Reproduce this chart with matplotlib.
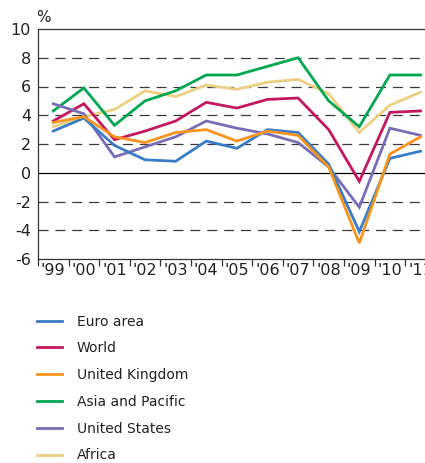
#!/usr/bin/env python3
# coding: utf-8
import matplotlib
matplotlib.use('Agg')
import matplotlib.pyplot as plt
from matplotlib.ticker import FixedLocator

# Year labels along the x axis
years = ["'99", "'00", "'01", "'02", "'03", "'04", "'05", "'06",
         "'07", "'08", "'09", "'10", "'11"]

# Growth in %
euro_area = [2.9, 3.8, 1.9, 0.9, 0.8, 2.2, 1.7, 3.0, 2.8, 0.6, -4.1, 1.0, 1.5]
world = [3.6, 4.8, 2.3, 2.9, 3.6, 4.9, 4.5, 5.1, 5.2, 3.0, -0.6, 4.2, 4.3]
united_kingdom = [3.5, 3.9, 2.5, 2.1, 2.8, 3.0, 2.2, 2.9, 2.6, 0.4, -4.9, 1.3, 2.5]
asia_pacific = [4.3, 5.9, 3.3, 5.0, 5.7, 6.8, 6.8, 7.4, 8.0, 5.0, 3.2, 6.8, 6.8]
united_states = [4.8, 4.1, 1.1, 1.8, 2.5, 3.6, 3.1, 2.7, 2.1, 0.4, -2.4, 3.1, 2.6]
africa = [3.2, 3.9, 4.4, 5.7, 5.3, 6.1, 5.8, 6.3, 6.5, 5.5, 2.8, 4.7, 5.6]

series_names = ["Euro area", "World", "United Kingdom", "Asia and Pacific",
                "United States", "Africa"]
series_values = [euro_area, world, united_kingdom, asia_pacific,
                 united_states, africa]
colors = ["#3a7dc5", "#c2185f", "#f7941d", "#00a551", "#7a6db5", "#ebd084"]

# draw order (back to front)
z_order = [5, 3, 1, 4, 0, 2]

fig = plt.figure(figsize=(4.25, 4.63), dpi=100)
ax = fig.add_axes([38 / 425, 1 - 259 / 463, 1 - 38 / 425, 230 / 463])

x = list(range(len(years)))
lines = {}
for i in z_order:
    ln, = ax.plot(x, series_values[i], color=colors[i], lw=2.0,
                  solid_joinstyle='miter', zorder=3)
    lines[i] = ln

# Grid: dashed at every 2, solid at zero
for g in [-4, -2, 2, 4, 6, 8]:
    ax.axhline(g, color='#3a3a3a', lw=0.9, dashes=(8, 5.5), zorder=1)
ax.axhline(0, color='black', lw=0.9, zorder=2)

ax.set_ylim(-6, 10)
ax.set_xlim(-0.5, -0.5 + 387 / 30.6)
ax.set_yticks(range(-6, 11, 2))
ax.set_yticklabels([str(v) for v in range(-6, 11, 2)])
ax.set_xticks(x)
ax.set_xticklabels(years)
ax.xaxis.set_minor_locator(FixedLocator([i - 0.5 for i in range(len(years) + 1)]))

ax.tick_params(axis='y', length=0, pad=5, labelsize=11.5, colors='#222222')
ax.tick_params(axis='x', which='major', length=0, pad=3, labelsize=11.5,
               colors='#222222')
ax.tick_params(axis='x', which='minor', length=5, width=0.9, color='#333333',
               direction='out')

for side in ['left', 'bottom', 'top']:
    ax.spines[side].set_color('#333333')
    ax.spines[side].set_linewidth(0.9)
ax.spines['right'].set_visible(False)

fig.text(36 / 425, 1 - 17 / 463, '%', fontsize=11, color='#222222',
         va='center', ha='left')

handles = [lines[i] for i in range(len(series_names))]
leg = fig.legend(handles, series_names, loc='upper left',
                 bbox_to_anchor=(24 / 425, 1 - 302 / 463),
                 frameon=False, fontsize=10, handlelength=1.8,
                 handletextpad=1.1, labelspacing=0.92)
for t in leg.get_texts():
    t.set_color('#222222')

fig.savefig('out.png', dpi=100)
